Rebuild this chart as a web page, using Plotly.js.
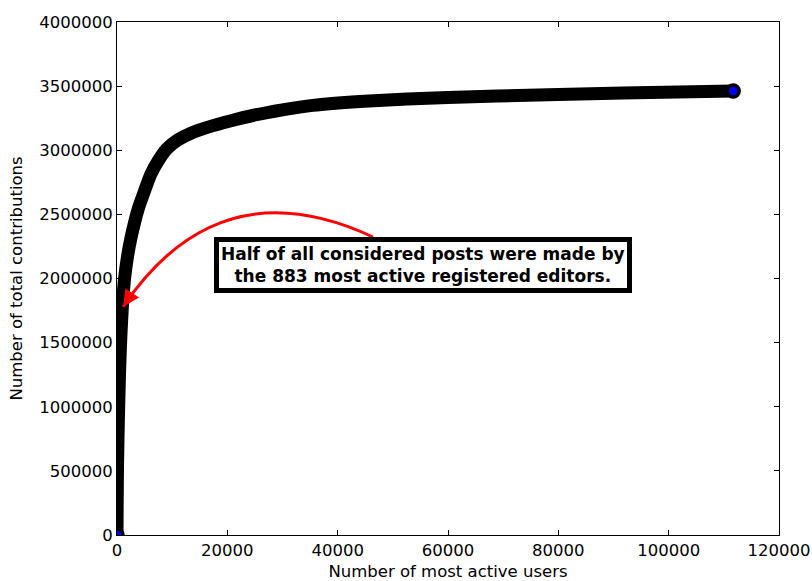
<!DOCTYPE html>
<html>
<head>
<meta charset="utf-8">
<script src="https://cdn.plot.ly/plotly-3.0.1.min.js"></script>
<style>
html, body { margin: 0; padding: 0; background: #fff; }
#chart { width: 812px; height: 581px; }
</style>
</head>
<body>
<div id="chart"></div>
<script>
// Data
const users = [0, 30, 100, 250, 450, 700, 1000, 1400, 1900, 2500, 3200, 3900, 4800, 6100, 7500, 9000, 11000, 13500, 16500, 20500, 25000, 30000, 35500, 44000, 52600, 60000, 68900, 80000, 91700, 111700];
const contributions = [0, 250000, 550000, 900000, 1250000, 1550000, 1800000, 2010000, 2170000, 2310000, 2440000, 2550000, 2660000, 2810000, 2920000, 3010000, 3080000, 3135000, 3180000, 3228000, 3275000, 3315000, 3350000, 3380000, 3399000, 3411000, 3423000, 3435000, 3446000, 3462000];

const xTicks = [0, 20000, 40000, 60000, 80000, 100000, 120000];
const yTicks = [0, 500000, 1000000, 1500000, 2000000, 2500000, 3000000, 3500000, 4000000];

const noteText = "Half of all considered posts were made by<br>the 883 most active registered editors.";
const noteX = 55500, noteY = 2105000;           // centre of the text box
const arrowStart = [46400, 2323600];            // where the arrow leaves the box
const arrowCtrl = [18490, 2885000];             // bend of the arc
const arrowTip = [1100, 1780000];               // arrowhead tip

const last = users.length - 1;

const traces = [
  {
    x: users, y: contributions, type: 'scatter', mode: 'lines',
    line: { color: '#000000', width: 13, shape: 'spline', smoothing: 0.5 },
    hoverinfo: 'skip', showlegend: false
  },
  {
    x: [users[0], users[last]], y: [contributions[0], contributions[last]],
    type: 'scatter', mode: 'markers',
    marker: { color: '#0000ff', size: 12, line: { color: '#000000', width: 3.5 } },
    hoverinfo: 'skip', showlegend: false
  }
];

const font = { family: 'DejaVu Sans, sans-serif', size: 16.5, color: '#000' };

const layout = {
  width: 812, height: 581,
  margin: { l: 117, r: 33, t: 22, b: 46, pad: 0 },
  paper_bgcolor: '#ffffff', plot_bgcolor: '#ffffff',
  font: font,
  showlegend: false,
  xaxis: {
    range: [0, 120000], tickvals: xTicks, ticktext: xTicks.map(String),
    ticks: 'inside', ticklen: 5, tickwidth: 1, tickcolor: '#000',
    showline: true, linecolor: '#000', linewidth: 1, mirror: 'allticks',
    showgrid: false, zeroline: false,
    tickfont: font,
    title: { text: 'Number of most active users', font: font, standoff: 7 }
  },
  yaxis: {
    range: [0, 4000000], tickvals: yTicks, ticktext: yTicks.map(String),
    ticks: 'inside', ticklen: 5, tickwidth: 1, tickcolor: '#000',
    showline: true, linecolor: '#000', linewidth: 1, mirror: 'allticks',
    showgrid: false, zeroline: false,
    tickfont: font,
    title: { text: 'Number of total contributions', font: font, standoff: 12 }
  },
  shapes: [
    {
      type: 'path', xref: 'x', yref: 'y', layer: 'above',
      path: 'M ' + arrowStart[0] + ',' + arrowStart[1] +
            ' Q ' + arrowCtrl[0] + ',' + arrowCtrl[1] +
            ' ' + arrowTip[0] + ',' + arrowTip[1],
      line: { color: '#ff0000', width: 3 }
    }
  ],
  annotations: [
    {
      x: arrowTip[0], y: arrowTip[1], xref: 'x', yref: 'y',
      text: '', showarrow: true, arrowhead: 2, arrowsize: 1.1, arrowwidth: 3,
      arrowcolor: '#ff0000', ax: 8, ay: -12, standoff: 0
    },
    {
      x: noteX, y: noteY, xref: 'x', yref: 'y',
      text: noteText, showarrow: false,
      font: { family: 'DejaVu Sans, sans-serif', size: 17, color: '#000', weight: 'bold' },
      align: 'center',
      bgcolor: '#ffffff', bordercolor: '#000000', borderwidth: 5, borderpad: 2
    }
  ]
};

Plotly.newPlot('chart', traces, layout, { staticPlot: true, displayModeBar: false });
</script>
</body>
</html>
